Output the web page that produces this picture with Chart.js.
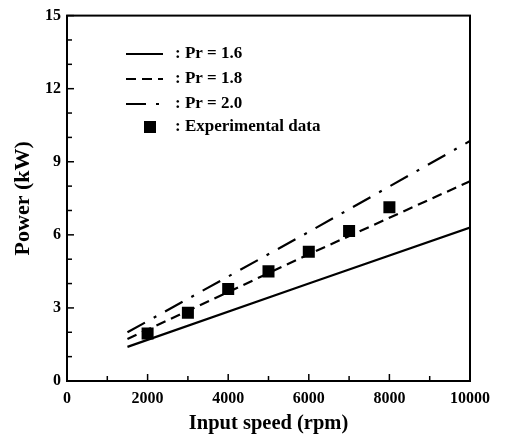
<!DOCTYPE html>
<html><head><meta charset="utf-8">
<script src="https://cdn.jsdelivr.net/npm/chart.js@4"></script>
<style>html,body{margin:0;padding:0;background:#fff}#wrap{width:505px;height:441px}</style>
</head><body><div id="wrap"><canvas id="c" width="505" height="441"></canvas></div>
<script>
const lineSpeeds = [1500, 6000, 10000];
const pr16 = [1.4, 4.0, 6.3];
const pr18 = [1.72, 5.2, 8.2];
const pr20 = [2.0, 6.12, 9.85];
const expSpeeds = [2000, 3000, 4000, 5000, 6000, 7000, 8000];
const expPower = [1.95, 2.8, 3.78, 4.5, 5.31, 6.16, 7.13];
const legendLabels = [': Pr = 1.6', ': Pr = 1.8', ': Pr = 2.0', ': Experimental data'];
const xTitle = 'Input speed (rpm)';
const yTitle = 'Power (kW)';

const FONT = '"Liberation Serif", "Times New Roman", serif';
const pts = (xs, ys) => xs.map((x, i) => ({x: x, y: ys[i]}));

const lineDs = (label, ys, dash) => ({
  type: 'line', label: label, data: pts(lineSpeeds, ys),
  borderColor: '#000', borderWidth: 2.2, borderDash: dash, pointRadius: 0, fill: false, tension: 0
});

const frameTicks = {
  id: 'frameTicks',
  afterDraw(chart) {
    const ctx = chart.ctx, a = chart.chartArea;
    const xs = chart.scales.x, ys = chart.scales.y;
    ctx.save();
    ctx.strokeStyle = '#000';
    ctx.lineWidth = 2;
    ctx.strokeRect(a.left, a.top, a.right - a.left, a.bottom - a.top);
    ctx.lineWidth = 1.5;
    ys.ticks.forEach(t => {
      const py = ys.getPixelForValue(t.value);
      const len = t.value % 3 === 0 ? 7 : 5;
      ctx.beginPath(); ctx.moveTo(a.left, py); ctx.lineTo(a.left + len, py); ctx.stroke();
    });
    xs.ticks.forEach(t => {
      const px = xs.getPixelForValue(t.value);
      const len = t.value % 2000 === 0 ? 7 : 5;
      ctx.beginPath(); ctx.moveTo(px, a.bottom); ctx.lineTo(px, a.bottom - len); ctx.stroke();
    });
    // legend
    const rows = [54, 79, 104, 127];
    ctx.font = 'bold 17px ' + FONT;
    ctx.fillStyle = '#000';
    ctx.textBaseline = 'middle';
    chart.data.datasets.forEach((ds, i) => {
      const y = rows[i];
      if (ds.type === 'line') {
        ctx.lineWidth = 2.2;
        ctx.setLineDash(ds.borderDash || []);
        ctx.beginPath(); ctx.moveTo(126, y); ctx.lineTo(163, y); ctx.stroke();
        ctx.setLineDash([]);
      } else {
        ctx.fillRect(144, y - 6, 12, 12);
      }
      ctx.fillText(legendLabels[i], 175, y);
    });
    ctx.restore();
  }
};

new Chart(document.getElementById('c'), {
  data: {
    datasets: [
      lineDs('Pr = 1.6', pr16, []),
      lineDs('Pr = 1.8', pr18, [10, 6]),
      lineDs('Pr = 2.0', pr20, [20, 10, 3, 10]),
      { type: 'scatter', label: 'Experimental data', data: pts(expSpeeds, expPower),
        pointStyle: 'rect', pointRadius: 8.5, backgroundColor: '#000', borderColor: '#000', borderWidth: 0 }
    ]
  },
  options: {
    responsive: false, animation: false,
    layout: { padding: { left: 0, top: 11, right: 35, bottom: 0 } },
    plugins: { legend: { display: false }, tooltip: { enabled: false } },
    scales: {
      x: {
        type: 'linear', min: 0, max: 10000,
        afterFit: s => { s.height = 60; },
        grid: { display: false, drawTicks: false },
        border: { display: false },
        ticks: { stepSize: 1000, autoSkip: false, maxRotation: 0, padding: 8, color: '#000',
          font: { family: FONT, size: 16, weight: 'bold' },
          callback: v => (v % 2000 === 0 ? String(v) : '') },
        title: { display: true, text: xTitle, color: '#000', padding: 5,
          font: { family: FONT, size: 20.5, weight: 'bold' } }
      },
      y: {
        min: 0, max: 15,
        afterFit: s => { s.width = 67; },
        grid: { display: false, drawTicks: false },
        border: { display: false },
        ticks: { stepSize: 1, autoSkip: false, padding: 6, color: '#000',
          font: { family: FONT, size: 16, weight: 'bold' },
          callback: v => (v % 3 === 0 ? String(v) : '') },
        title: { display: true, text: yTitle, color: '#000', padding: 10,
          font: { family: FONT, size: 22, weight: 'bold' } }
      }
    }
  },
  plugins: [frameTicks]
});
</script></body></html>
